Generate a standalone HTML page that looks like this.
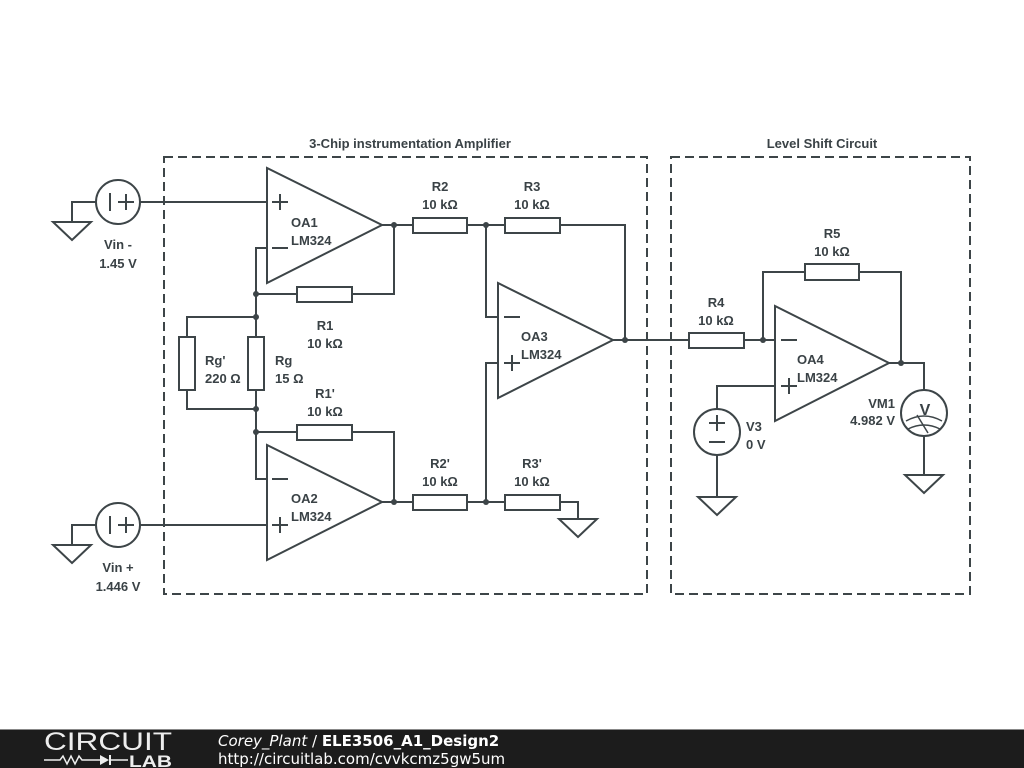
<!DOCTYPE html>
<html><head><meta charset="utf-8"><style>
html,body{margin:0;padding:0;background:#fff;width:1024px;height:768px;overflow:hidden}
svg{display:block}
text{font-family:"Liberation Sans",Arial,sans-serif;font-weight:bold;font-size:13px;fill:#3a4246}
</style></head><body>
<svg width="1024" height="768" viewBox="0 0 1024 768">
<g stroke="#3d4548" stroke-width="2" fill="none">
<rect x="164" y="157" width="483" height="437" stroke-dasharray="9,5"/>
<rect x="671" y="157" width="299" height="437" stroke-dasharray="9,5"/>
<circle cx="118" cy="202" r="22" fill="#fff"/>
<line x1="110" y1="193" x2="110" y2="211"/><line x1="118" y1="202" x2="134" y2="202"/><line x1="126" y1="194" x2="126" y2="210"/>
<polyline points="96,202 72,202 72,222"/>
<polygon points="53,222 91,222 72,240"/>
<line x1="140" y1="202" x2="267" y2="202"/>
<circle cx="118" cy="525" r="22" fill="#fff"/>
<line x1="110" y1="516" x2="110" y2="534"/><line x1="118" y1="525" x2="134" y2="525"/><line x1="126" y1="517" x2="126" y2="533"/>
<polyline points="96,525 72,525 72,545"/>
<polygon points="53,545 91,545 72,563"/>
<line x1="140" y1="525" x2="267" y2="525"/>
<polygon points="267,168 267,283 382,225"/>
<line x1="272" y1="202" x2="288" y2="202"/><line x1="280" y1="194" x2="280" y2="210"/>
<line x1="272" y1="248" x2="288" y2="248"/>
<polyline points="267,248 256,248 256,432 267,432"/>
<polyline points="256,317 187,317 187,337"/><polyline points="187,390 187,409 256,409"/>
<rect x="179" y="337" width="16" height="53" fill="#fff"/>
<rect x="248" y="337" width="16" height="53" fill="#fff"/>
<line x1="256" y1="294" x2="297" y2="294"/>
<rect x="297" y="287" width="55" height="15" fill="#fff"/>
<polyline points="352,294 394,294 394,225"/>
<line x1="382" y1="225" x2="413" y2="225"/>
<rect x="413" y="218" width="54" height="15" fill="#fff"/>
<line x1="467" y1="225" x2="505" y2="225"/>
<rect x="505" y="218" width="55" height="15" fill="#fff"/>
<polyline points="560,225 625,225 625,340"/>
<polyline points="486,225 486,317 498,317"/>
<line x1="256" y1="432" x2="297" y2="432"/>
<rect x="297" y="425" width="55" height="15" fill="#fff"/>
<polyline points="352,432 394,432 394,502"/>
<polyline points="256,432 256,479 267,479"/>
<polygon points="267,445 267,560 382,502"/>
<line x1="272" y1="479" x2="288" y2="479"/>
<line x1="272" y1="525" x2="288" y2="525"/><line x1="280" y1="517" x2="280" y2="533"/>
<line x1="382" y1="502" x2="413" y2="502"/>
<rect x="413" y="495" width="54" height="15" fill="#fff"/>
<line x1="467" y1="502" x2="505" y2="502"/>
<rect x="505" y="495" width="55" height="15" fill="#fff"/>
<polyline points="560,502 578,502 578,519"/>
<polygon points="559,519 597,519 578,537"/>
<polyline points="486,502 486,363 498,363"/>
<polygon points="498,283 498,398 613,340"/>
<line x1="504" y1="317" x2="520" y2="317"/>
<line x1="504" y1="363" x2="520" y2="363"/><line x1="512" y1="355" x2="512" y2="371"/>
<line x1="613" y1="340" x2="689" y2="340"/>
<rect x="689" y="333" width="55" height="15" fill="#fff"/>
<line x1="744" y1="340" x2="775" y2="340"/>
<polyline points="763,340 763,272 805,272"/>
<rect x="805" y="264" width="54" height="16" fill="#fff"/>
<polyline points="859,272 901,272 901,363"/>
<polygon points="775,306 775,421 889,363"/>
<line x1="781" y1="340" x2="797" y2="340"/>
<line x1="781" y1="386" x2="797" y2="386"/><line x1="789" y1="378" x2="789" y2="394"/>
<polyline points="775,386 717,386 717,409"/>
<circle cx="717" cy="432" r="23" fill="#fff"/>
<line x1="709" y1="423" x2="725" y2="423"/><line x1="717" y1="415" x2="717" y2="431"/>
<line x1="709" y1="442" x2="725" y2="442"/>
<line x1="717" y1="455" x2="717" y2="497"/>
<polygon points="698,497 736,497 717,515"/>
<polyline points="889,363 924,363 924,390"/>
<circle cx="924" cy="413" r="23" fill="#fff"/>
<path d="M906,421 Q924,411 942,421" stroke-width="1.5"/>
<path d="M908,429 Q924,421 940,429" stroke-width="1.5"/>
<line x1="917" y1="415" x2="928" y2="433" stroke-width="1.5"/>
<line x1="924" y1="436" x2="924" y2="475"/>
<polygon points="905,475 943,475 924,493"/>
</g>
<g fill="#3d4548">
<circle cx="394" cy="225" r="3"/><circle cx="486" cy="225" r="3"/><circle cx="625" cy="340" r="3"/>
<circle cx="256" cy="294" r="3"/><circle cx="256" cy="317" r="3"/><circle cx="256" cy="409" r="3"/><circle cx="256" cy="432" r="3"/>
<circle cx="394" cy="502" r="3"/><circle cx="486" cy="502" r="3"/>
<circle cx="763" cy="340" r="3"/><circle cx="901" cy="363" r="3"/>
</g>
<text x="925" y="415" text-anchor="middle" style="font-size:16px">V</text>
<text x="410" y="148" text-anchor="middle">3-Chip instrumentation Amplifier</text>
<text x="822" y="148" text-anchor="middle">Level Shift Circuit</text>
<text x="118" y="249" text-anchor="middle">Vin -</text><text x="118" y="268" text-anchor="middle">1.45 V</text>
<text x="118" y="572" text-anchor="middle">Vin +</text><text x="118" y="591" text-anchor="middle">1.446 V</text>
<text x="291" y="227">OA1</text><text x="291" y="245">LM324</text>
<text x="291" y="503">OA2</text><text x="291" y="521">LM324</text>
<text x="521" y="341">OA3</text><text x="521" y="359">LM324</text>
<text x="797" y="364">OA4</text><text x="797" y="382">LM324</text>
<text x="325" y="330" text-anchor="middle">R1</text><text x="325" y="348" text-anchor="middle">10 kΩ</text>
<text x="325" y="398" text-anchor="middle">R1'</text><text x="325" y="416" text-anchor="middle">10 kΩ</text>
<text x="205" y="365">Rg'</text><text x="205" y="383">220 Ω</text>
<text x="275" y="365">Rg</text><text x="275" y="383">15 Ω</text>
<text x="440" y="191" text-anchor="middle">R2</text><text x="440" y="209" text-anchor="middle">10 kΩ</text>
<text x="532" y="191" text-anchor="middle">R3</text><text x="532" y="209" text-anchor="middle">10 kΩ</text>
<text x="440" y="468" text-anchor="middle">R2'</text><text x="440" y="486" text-anchor="middle">10 kΩ</text>
<text x="532" y="468" text-anchor="middle">R3'</text><text x="532" y="486" text-anchor="middle">10 kΩ</text>
<text x="716" y="307" text-anchor="middle">R4</text><text x="716" y="325" text-anchor="middle">10 kΩ</text>
<text x="832" y="238" text-anchor="middle">R5</text><text x="832" y="256" text-anchor="middle">10 kΩ</text>
<text x="746" y="431">V3</text><text x="746" y="449">0 V</text>
<text x="895" y="408" text-anchor="end">VM1</text><text x="895" y="425" text-anchor="end">4.982 V</text>
<rect x="0" y="729" width="1024" height="39" fill="#1c1c1c"/>
<line x1="0" y1="729.5" x2="1024" y2="729.5" stroke="#888" stroke-width="1"/>
<text x="44" y="750" textLength="128" lengthAdjust="spacingAndGlyphs" style="font-weight:normal;font-size:25px;fill:#eee">CIRCUIT</text>
<polyline points="44,760 60,760 63,756 67,764 71,756 75,764 79,756 82,760 100,760" stroke="#eee" stroke-width="1.5" fill="none"/>
<polygon points="100,755 100,765 109,760" fill="#eee"/><line x1="110" y1="755" x2="110" y2="765" stroke="#eee" stroke-width="2"/>
<line x1="110" y1="760" x2="128" y2="760" stroke="#eee" stroke-width="1.5"/>
<text x="129" y="767" textLength="43" lengthAdjust="spacingAndGlyphs" style="font-size:17px;fill:#eee;font-weight:bold">LAB</text>
<text x="218" y="746" style="font-family:'DejaVu Sans',sans-serif;font-weight:normal;font-size:15px;fill:#fff"><tspan font-style="italic">Corey_Plant</tspan> / <tspan font-weight="bold">ELE3506_A1_Design2</tspan></text>
<text x="218" y="764" style="font-family:'DejaVu Sans',sans-serif;font-weight:normal;font-size:15px;fill:#fff">http://circuitlab.com/cvvkcmz5gw5um</text>
</svg>
</body></html>
